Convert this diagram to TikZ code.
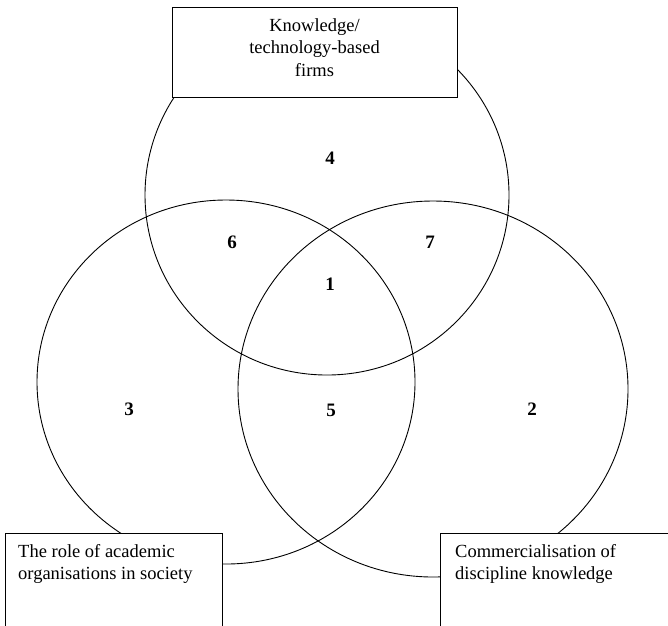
\documentclass[tikz,border=0pt]{standalone}
\usepackage{fontspec}
\setmainfont{Liberation Serif}
\usetikzlibrary{shapes.geometric}
\tikzset{
  ring/.style={ellipse, draw, line width=0.9pt, inner sep=0pt},
  labelbox/.style={rectangle, draw, line width=0.9pt, fill=white, inner sep=0pt},
  boxtext/.style={inner sep=0pt, font=\fontsize{18.5}{22.5}\selectfont},
  region/.style={inner sep=0pt, font=\fontsize{19}{22}\selectfont\bfseries}
}
\begin{document}
\begin{tikzpicture}[x=1pt,y=-1pt]
\useasboundingbox (0,0) rectangle (668,625);
\clip (0,0) rectangle (668,625);
% circles
\node[ring, minimum width=364pt, minimum height=360pt] (ctop) at (327,195) {};
\node[ring, minimum width=378pt, minimum height=364pt] (cleft) at (226,382) {};
\node[ring, minimum width=390pt, minimum height=376pt] (cright) at (433,389) {};
% boxes
\node[labelbox, minimum width=285pt, minimum height=90pt] (btop) at (314.5,52) {};
\node[labelbox, anchor=north west, minimum width=217pt, minimum height=120pt] (bleft) at (5,533) {};
\node[labelbox, anchor=north west, minimum width=260pt, minimum height=120pt] (bright) at (440,533) {};
% box texts
\node[boxtext, align=center, anchor=center] (ttop) at (314.5,47.5) {Knowledge/\\technology-based\\firms};
\node[boxtext, anchor=base west] (tl1) at (18,557) {The role of academic};
\node[boxtext, anchor=base west] (tl2) at (18,579.5) {organisations in society};
\node[boxtext, anchor=base west] (tr1) at (455,557) {Commercialisation of};
\node[boxtext, anchor=base west] (tr2) at (455,579.5) {discipline knowledge};
% region numbers
\node[region] (n4) at (330,158) {4};
\node[region] (n6) at (232,242) {6};
\node[region] (n7) at (430,242) {7};
\node[region] (n1) at (330,284) {1};
\node[region] (n3) at (129,409) {3};
\node[region] (n5) at (331,410) {5};
\node[region] (n2) at (532,409) {2};
\end{tikzpicture}
\end{document}
